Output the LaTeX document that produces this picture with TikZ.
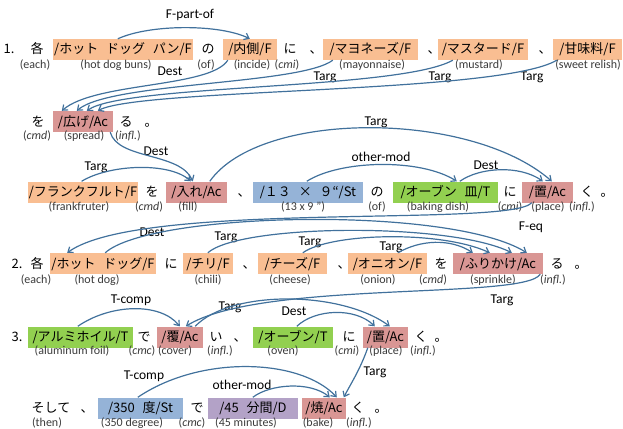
\documentclass[tikz,border=0pt]{standalone}
\usepackage{fontspec}
\setmainfont{Carlito}
\newfontfamily\jp{Noto Sans CJK JP}
\usetikzlibrary{arrows.meta}
\definecolor{cF}{HTML}{F9BE92}
\definecolor{cA}{HTML}{D99694}
\definecolor{cS}{HTML}{95B3D7}
\definecolor{cT}{HTML}{92D050}
\definecolor{cD}{HTML}{B3A2C7}
\definecolor{cL}{HTML}{41719C}
\definecolor{cG}{HTML}{3A3A3A}
\newcommand\hsp{\hspace{0.6em}}
\tikzset{
  tok/.style={font=\jp\fontsize{13}{15}\selectfont, inner sep=0pt, text height=11pt, text depth=2pt},
  tbox/.style={tok, minimum height=21pt, inner xsep=1pt},
  fF/.style={tbox, fill=cF},
  fA/.style={tbox, fill=cA},
  fS/.style={tbox, fill=cS},
  fT/.style={tbox, fill=cT},
  fD/.style={tbox, fill=cD},
  gl/.style={font=\fontsize{12}{14}\selectfont, inner sep=0pt, text height=9pt, text depth=3pt, text=cG},
  lab/.style={font=\fontsize{13.5}{15}\selectfont, inner sep=0pt, text height=9.5pt, text depth=3pt},
  rel/.style={draw=cL, line width=1.2pt, -{Straight Barb[length=4.5pt,width=7pt]}}
}
\begin{document}
\begin{tikzpicture}[x=1pt,y=-1pt]
\useasboundingbox (0,0) rectangle (623,428);
% ---------- row 1
\node[tok] (n1) at (9,49.5) {1.};
\node[tok] (k1) at (37,49.5) {各};
\node[fF, minimum width=140pt] (buns) at (123,49.5) {/ホット\hsp ドッグ\hsp パン/F};
\node[tok] (no1) at (208,49.5) {の};
\node[fF, minimum width=54pt] (uchi) at (250,49.5) {/内側/F};
\node[tok] (ni1) at (290,49.5) {に};
\node[tok] (c1) at (316,49.5) {、};
\node[fF, minimum width=95pt] (mayo) at (370.5,49.5) {/マヨネーズ/F};
\node[tok] (c2) at (434,49.5) {、};
\node[fF, minimum width=90pt] (must) at (483,49.5) {/マスタード/F};
\node[tok] (c3) at (545,49.5) {、};
\node[fF, minimum width=69pt] (relish) at (587.5,49.5) {/甘味料/F};
\node[gl] (g11) at (35,65) {(each)};
\node[gl] (g12) at (116,65) {(hot dog buns)};
\node[gl] (g13) at (206,65) {(of)};
\node[gl] (g14) at (252,65) {(incide)};
\node[gl] (g15) at (287,65) {(\textit{cmi})};
\node[gl] (g16) at (372,65) {(mayonnaise)};
\node[gl] (g17) at (479,65) {(mustard)};
\node[gl] (g18) at (588,65) {(sweet relish)};
% ---------- row 2
\node[tok] (wo2) at (38,121.5) {を};
\node[fA, minimum width=60pt] (hiro) at (83,121.5) {/広げ/Ac};
\node[tok] (ru2) at (126,121.5) {る};
\node[tok] (p2) at (151,121.5) {。};
\node[gl] (g21) at (37,136) {(\textit{cmd})};
\node[gl] (g22) at (84,136) {(spread)};
\node[gl] (g23) at (128,136) {(\textit{infl.})};
% ---------- row 3
\node[fF, minimum width=108pt] (frank) at (83,192) {/フランクフルト/F};
\node[tok] (wo3) at (152,192) {を};
\node[fA, minimum width=61pt] (ire) at (196.5,192) {/入れ/Ac};
\node[tok] (c4) at (244,192) {、};
\node[fS, minimum width=110pt] (b13) at (308,192) {/１３\hsp ×\hsp ９“/St};
\node[tok] (no3) at (377,192) {の};
\node[fT, minimum width=105pt] (sara) at (445.5,192) {/オーブン\hsp 皿/T};
\node[tok] (ni3) at (510,192) {に};
\node[fA, minimum width=51pt] (okiA) at (547.5,192) {/置/Ac};
\node[tok] (ku3) at (587,192) {く};
\node[tok] (p3) at (607,192) {。};
\node[gl] (g31) at (79,207) {(frankfruter)};
\node[gl] (g32) at (149,207) {(\textit{cmd})};
\node[gl] (g33) at (188,207) {(fill)};
\node[gl] (g34) at (303,207) {(13 x 9 ”)};
\node[gl] (g35) at (377,207) {(of)};
\node[gl] (g36) at (438,207) {(baking dish)};
\node[gl] (g37) at (510,207) {(\textit{cmi})};
\node[gl] (g38) at (548,207) {(place)};
\node[gl] (g39) at (582,207) {(\textit{infl.})};
% ---------- row 4
\node[tok] (n2) at (17,263.5) {2.};
\node[tok] (k2) at (37,263.5) {各};
\node[fF, minimum width=100pt] (hd) at (103,263.5) {/ホット\hsp ドッグ/F};
\node[tok] (ni4) at (171,263.5) {に};
\node[fF, minimum width=50pt] (chili) at (208,263.5) {/チリ/F};
\node[tok] (c5) at (249,263.5) {、};
\node[fF, minimum width=69pt] (cheese) at (292.5,263.5) {/チーズ/F};
\node[tok] (c6) at (344,263.5) {、};
\node[fF, minimum width=79pt] (onion) at (387.5,263.5) {/オニオン/F};
\node[tok] (wo4) at (441,263.5) {を};
\node[fA, minimum width=90pt] (furi) at (498,263.5) {/ふりかけ/Ac};
\node[tok] (ru4) at (557,263.5) {る};
\node[tok] (p4) at (581,263.5) {。};
\node[gl] (g41) at (36,280) {(each)};
\node[gl] (g42) at (97,280) {(hot dog)};
\node[gl] (g43) at (208,280) {(chili)};
\node[gl] (g44) at (290,280) {(cheese)};
\node[gl] (g45) at (378,280) {(onion)};
\node[gl] (g46) at (433,280) {(\textit{cmd})};
\node[gl] (g47) at (493,280) {(sprinkle)};
\node[gl] (g48) at (553,280) {(\textit{infl.})};
% ---------- row 5
\node[tok] (n3) at (17,337) {3.};
\node[fT, minimum width=105pt] (alu) at (80.5,337) {/アルミホイル/T};
\node[tok] (de5) at (144,337) {で};
\node[fA, minimum width=46pt] (oou) at (180,337) {/覆/Ac};
\node[tok] (i5) at (216,337) {い};
\node[tok] (c7) at (240,337) {、};
\node[fT, minimum width=80pt] (oven) at (293,337) {/オーブン/T};
\node[tok] (ni5) at (349,337) {に};
\node[fA, minimum width=45pt] (okiB) at (385.5,337) {/置/Ac};
\node[tok] (ku5) at (421,337) {く};
\node[tok] (p5) at (441,337) {。};
\node[gl] (g51) at (72,351) {(aluminum foil)};
\node[gl] (g52) at (142,351) {(\textit{cmc})};
\node[gl] (g53) at (175,351) {(cover)};
\node[gl] (g54) at (220,351) {(\textit{infl.})};
\node[gl] (g55) at (283,351) {(oven)};
\node[gl] (g56) at (347,351) {(\textit{cmi})};
\node[gl] (g57) at (386,351) {(place)};
\node[gl] (g58) at (423,351) {(\textit{infl.})};
% ---------- row 6
\node[tok] (sosh) at (51,408) {そして};
\node[tok] (c8) at (87,408) {、};
\node[fS, minimum width=85pt] (b350) at (140.5,408) {/350\hsp 度/St};
\node[tok] (de6) at (197,408) {で};
\node[fD, minimum width=90pt] (b45) at (253,408) {/45\hsp 分間/D};
\node[fA, minimum width=44pt] (yaku) at (324,408) {/焼/Ac};
\node[tok] (ku6) at (358,408) {く};
\node[tok] (p6) at (381,408) {。};
\node[gl] (g61) at (47,423) {(then)};
\node[gl] (g62) at (132,423) {(350 degree)};
\node[gl] (g63) at (192,423) {(\textit{cmc})};
\node[gl] (g64) at (246,423) {(45 minutes)};
\node[gl] (g65) at (318,423) {(bake)};
\node[gl] (g66) at (359,423) {(\textit{infl.})};
% ---------- labels
\node[lab] (l1) at (190,15) {F-part-of};
\node[lab] (l2) at (170,72) {Dest};
\node[lab] (l3) at (325,77) {Targ};
\node[lab] (l4) at (440,77) {Targ};
\node[lab] (l5) at (532,77) {Targ};
\node[lab] (l6) at (156,152) {Dest};
\node[lab] (l7) at (96,167) {Targ};
\node[lab] (l8) at (376,122) {Targ};
\node[lab] (l9) at (381,158) {other-mod};
\node[lab] (l10) at (486,166) {Dest};
\node[lab] (l11) at (531,227) {F-eq};
\node[lab] (l12) at (152,233) {Dest};
\node[lab] (l13) at (226,237) {Targ};
\node[lab] (l14) at (310,242) {Targ};
\node[lab] (l15) at (391,247) {Targ};
\node[lab] (l16) at (131,300) {T-comp};
\node[lab] (l17) at (230,307) {Targ};
\node[lab] (l18) at (294,312) {Dest};
\node[lab] (l19) at (502,300) {Targ};
\node[lab] (l20) at (375,372) {Targ};
\node[lab] (l21) at (144,376) {T-comp};
\node[lab] (l22) at (242,386) {other-mod};
% ---------- connectors
\draw[rel] ([xshift=65pt]buns.north west) .. controls (150,24) and (220,24) .. ([xshift=27pt]uchi.north west);
\draw[rel] ([xshift=5pt]uchi.south west) .. controls (210,88) and (95,82) .. ([xshift=9pt]hiro.north west);
\draw[rel] ([xshift=10pt]mayo.south west) .. controls (300,85) and (110,82) .. ([xshift=24pt]hiro.north west);
\draw[rel] ([xshift=15pt]must.south west) .. controls (400,90) and (125,84) .. ([xshift=34pt]hiro.north west);
\draw[rel] ([xshift=4pt]relish.south west) .. controls (500,94) and (140,88) .. ([xshift=45pt]hiro.north west);
\draw[rel] ([xshift=-3pt]hiro.south east) .. controls (118,160) and (180,152) .. ([xshift=27pt]ire.north west);
\draw[rel] ([xshift=54pt]frank.north west) .. controls (110,164) and (170,162) .. ([xshift=25pt]ire.north west);
\draw[rel] ([xshift=44pt]ire.north west) .. controls (260,110) and (470,110) .. ([xshift=30pt]okiA.north west);
\draw[rel] ([xshift=54pt]b13.north west) .. controls (340,160) and (420,158) .. ([xshift=64pt]sara.north west);
\draw[rel] ([xshift=67pt]sara.north west) .. controls (480,167) and (520,165) .. ([xshift=21pt]okiA.north west);
\draw[rel] ([xshift=10pt]okiA.south west) .. controls (510,228) and (140,200) .. ([xshift=17pt]hd.north west);
\draw[rel] ([xshift=55pt]hd.north west) .. controls (150,212) and (450,205) .. ([xshift=74pt]furi.north west);
\draw[rel] ([xshift=25pt]chili.north west) .. controls (240,224) and (450,222) .. ([xshift=59pt]furi.north west);
\draw[rel] ([xshift=45pt]cheese.north west) .. controls (330,233) and (440,230) .. ([xshift=37pt]furi.north west);
\draw[rel] ([xshift=50pt]onion.north west) .. controls (420,240) and (450,238) .. ([xshift=20pt]furi.north west);
\draw[rel] ([xshift=-3pt]furi.south east) .. controls (525,300) and (260,280) .. ([xshift=29pt]oou.north west);
\draw[rel] ([xshift=50pt]alu.north west) .. controls (110,304) and (160,302) .. ([xshift=23pt]oou.north west);
\draw[rel] ([xshift=-8pt]oou.north east) .. controls (230,290) and (340,290) .. ([xshift=27pt]okiB.north west);
\draw[rel] ([xshift=44pt]oven.north west) .. controls (315,309) and (355,307) .. ([xshift=12pt]okiB.north west);
\draw[rel] ([xshift=5pt]okiB.south west) .. controls (360,370) and (350,385) .. ([xshift=42pt]yaku.north west);
\draw[rel] ([xshift=40pt]b350.north west) .. controls (200,355) and (300,358) .. ([xshift=35pt]yaku.north west);
\draw[rel] ([xshift=45pt]b45.north west) .. controls (270,384) and (310,381) .. ([xshift=28pt]yaku.north west);
\end{tikzpicture}
\end{document}
